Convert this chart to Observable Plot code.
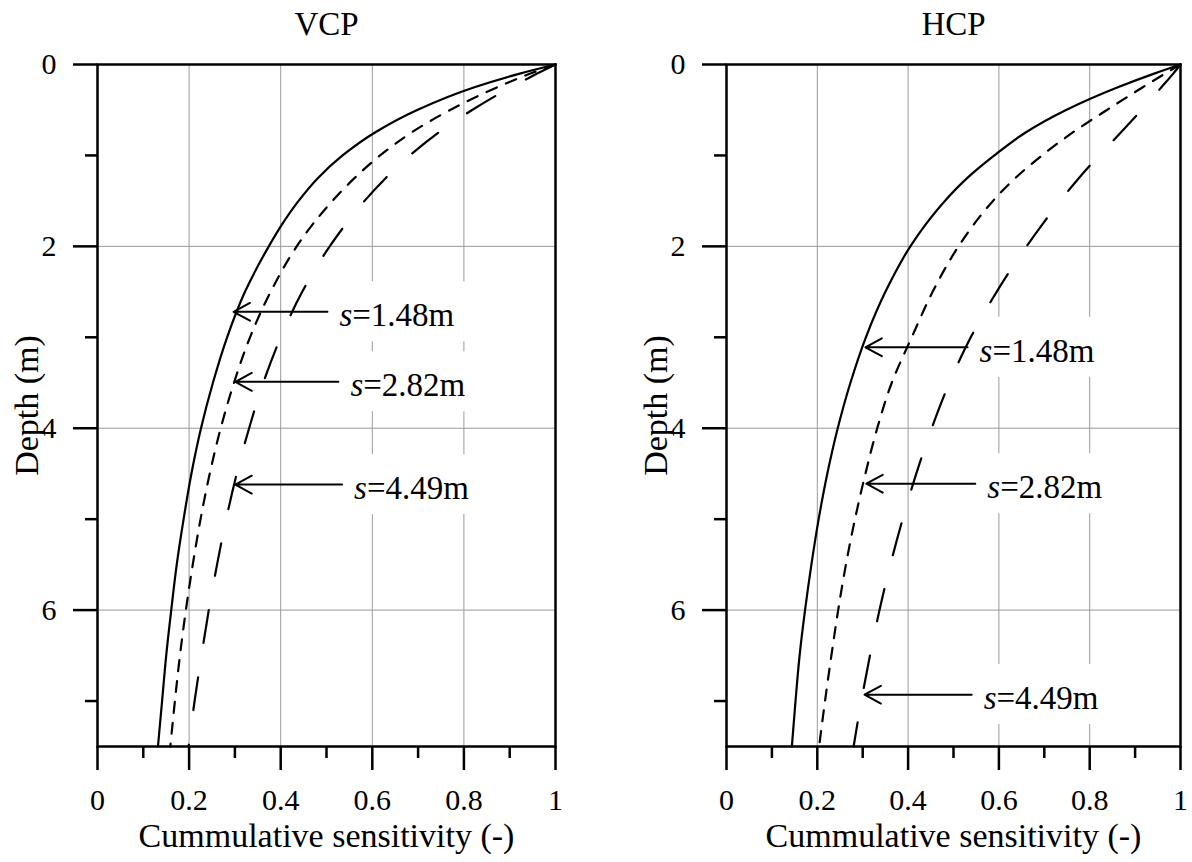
<!DOCTYPE html>
<html>
<head>
<meta charset="utf-8">
<script src="https://cdn.jsdelivr.net/npm/d3@7"></script>
<script src="https://cdn.jsdelivr.net/npm/@observablehq/plot@0.6"></script>
<style>
  body { margin: 0; background: #fff; }
  #wrap { display: flex; width: 1192px; height: 862px; background: #fff; }
</style>
</head>
<body>
<div id="wrap"></div>
<script>
// ---------- data ----------
const depth  = [0, 0.1, 0.25, 0.5, 0.75, 1, 1.25, 1.5, 1.75, 2, 2.5, 3, 3.5, 4, 4.5, 5, 5.5, 6, 6.5, 7, 7.5];

const vcp148 = [1, 0.922, 0.823, 0.698, 0.605, 0.535, 0.481, 0.439, 0.404, 0.374, 0.322, 0.283, 0.252, 0.226, 0.205, 0.188, 0.173, 0.161, 0.150, 0.141, 0.132];
const vcp282 = [1, 0.945, 0.873, 0.77, 0.685, 0.617, 0.561, 0.513, 0.471, 0.435, 0.378, 0.333, 0.298, 0.269, 0.245, 0.225, 0.208, 0.193, 0.180, 0.169, 0.159];
const vcp449 = [1, 0.96, 0.903, 0.818, 0.744, 0.682, 0.629, 0.583, 0.543, 0.507, 0.447, 0.40, 0.362, 0.331, 0.304, 0.281, 0.261, 0.243, 0.227, 0.212, 0.199];

const hcp148 = [1, 0.942, 0.862, 0.748, 0.658, 0.59, 0.53, 0.481, 0.44, 0.405, 0.35, 0.307, 0.273, 0.245, 0.222, 0.203, 0.187, 0.173, 0.161, 0.152, 0.144];
const hcp282 = [1, 0.966, 0.917, 0.838, 0.762, 0.695, 0.636, 0.587, 0.546, 0.511, 0.454, 0.408, 0.364, 0.332, 0.306, 0.283, 0.263, 0.246, 0.231, 0.217, 0.204];
const hcp449 = [1, 0.984, 0.958, 0.914, 0.868, 0.821, 0.776, 0.735, 0.697, 0.661, 0.595, 0.538, 0.491, 0.452, 0.418, 0.388, 0.361, 0.337, 0.316, 0.297, 0.28];

const panelTitles = ["VCP", "HCP"];
const sLabels = ["s=1.48m", "s=2.82m", "s=4.49m"];

// annotation arrows: depth (m), arrow tip and tail (sensitivity)
const annDepthVCP = [2.72, 3.49, 4.62];
const annTipVCP   = [0.297, 0.301, 0.301];
const annTailVCP  = [0.502, 0.526, 0.534];
const annDepthHCP = [3.11, 4.61, 6.93];
const annTipHCP   = [0.306, 0.308, 0.304];
const annTailHCP  = [0.531, 0.548, 0.54];

const xMajor = [0, 0.2, 0.4, 0.6, 0.8, 1];
const xMajorLabels = ["0", "0.2", "0.4", "0.6", "0.8", "1"];
const xMinor = [0.1, 0.3, 0.5, 0.7, 0.9];
const yMajor = [0, 2, 4, 6];
const yMajorLabels = ["0", "2", "4", "6"];
const yMinor = [1, 3, 5, 7];
const xGrid = [0.2, 0.4, 0.6, 0.8];
const yGrid = [2, 4, 6];
const xLabel = "Cummulative sensitivity (-)";
const yLabel = "Depth (m)";

// ---------- drawing ----------
const FONT = "'Liberation Serif', 'Times New Roman', serif";

function series(vals) { return depth.map((d, i) => ({d, v: vals[i]})); }

function panel(title, s1, s2, s3, aDepth, aTip, aTail, marginLeft, marginRight) {
  const ann = aDepth.map((d, i) => ({depth: d, tip: aTip[i], tail: aTail[i], label: sLabels[i]}));
  const svg = Plot.plot({
    width: 596,
    height: 862,
    marginTop: 64,
    marginBottom: 116,
    marginLeft,
    marginRight,
    x: {domain: [0, 1]},
    y: {domain: [0, 7.5], reverse: true},
    style: {fontFamily: FONT, background: "white", color: "black", overflow: "visible"},
    marks: [
      Plot.ruleX(xGrid, {x: d => d, stroke: "#9a9a9a", strokeWidth: 1}),
      Plot.ruleY(yGrid, {y: d => d, stroke: "#9a9a9a", strokeWidth: 1}),
      // white boxes behind annotation labels (interrupt the grid)
      Plot.rect(ann, {x1: "tail", x2: "tail", y1: "depth", y2: "depth",
        insetLeft: -4, insetRight: -140, insetTop: -30, insetBottom: -30, fill: "white"}),
      Plot.frame({stroke: "black", strokeWidth: 2.5}),
      Plot.axisX({ticks: xMajor, tickSize: 24, tickPadding: 18, fontSize: 30, strokeWidth: 2.5,
        tickFormat: d => xMajorLabels[xMajor.indexOf(d)], label: null}),
      Plot.axisX({ticks: xMinor, tickSize: 12, strokeWidth: 2.5, tickFormat: () => "", label: null}),
      Plot.axisY({ticks: yMajor, tickSize: 24, tickPadding: 17, fontSize: 30, strokeWidth: 2.5,
        tickFormat: d => yMajorLabels[yMajor.indexOf(d)], label: null}),
      Plot.axisY({ticks: yMinor, tickSize: 12, strokeWidth: 2.5, tickFormat: () => "", label: null}),
      Plot.text([title], {text: d => d, frameAnchor: "top", lineAnchor: "middle", textAnchor: "middle",
        dy: -40, fontSize: 33}),
      Plot.text([xLabel], {text: d => d, frameAnchor: "bottom", lineAnchor: "middle", textAnchor: "middle",
        dy: 90, fontSize: 34}),
      Plot.text([yLabel], {text: d => d, frameAnchor: "left", lineAnchor: "middle", textAnchor: "middle",
        dx: -70, rotate: -90, fontSize: 34}),
      Plot.line(series(s1), {x: "v", y: "d", curve: "monotone-y", stroke: "black", strokeWidth: 2.2}),
      Plot.line(series(s2), {x: "v", y: "d", curve: "monotone-y", stroke: "black", strokeWidth: 2.2, strokeDasharray: "11,10"}),
      Plot.line(series(s3), {x: "v", y: "d", curve: "monotone-y", stroke: "black", strokeWidth: 2.2, strokeDasharray: "33,35"}),
      Plot.arrow(ann, {x1: "tail", x2: "tip", y1: "depth", y2: "depth", stroke: "black",
        strokeWidth: 2, headLength: 14, headAngle: 57}),
      Plot.text(ann, {x: "tail", y: "depth", text: "label", textAnchor: "start", lineAnchor: "middle",
        dx: 12, dy: 4, fontSize: 33, fill: "black", className: "ann-label"})
    ]
  });
  // italic "s" in the annotation labels
  d3.select(svg).selectAll("g.ann-label text").each(function() {
    const t = this.textContent;
    const sel = d3.select(this);
    sel.text(null);
    sel.append("tspan").attr("font-style", "italic").text(t.slice(0, 1));
    sel.append("tspan").text(t.slice(1));
  });
  return svg;
}

const wrap = document.getElementById("wrap");
wrap.append(panel(panelTitles[0], vcp148, vcp282, vcp449, annDepthVCP, annTipVCP, annTailVCP, 97, 41));
wrap.append(panel(panelTitles[1], hcp148, hcp282, hcp449, annDepthHCP, annTipHCP, annTailHCP, 130, 12));
</script>
</body>
</html>
